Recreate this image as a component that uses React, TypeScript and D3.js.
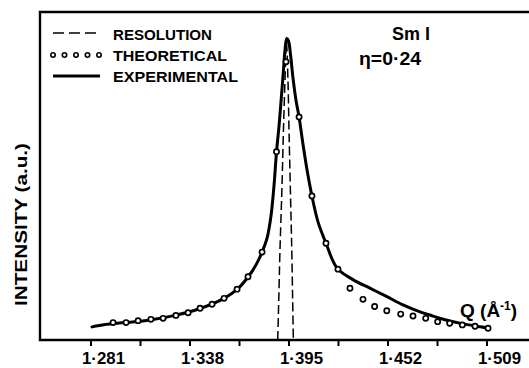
import React, { useEffect, useRef } from 'react';
import * as d3 from 'd3';

// Q values (A^-1) and intensity (arbitrary units, 0..100)
const expQ = [1.2816, 1.2891, 1.3006, 1.3150, 1.3294, 1.3438, 1.3576, 1.3651, 1.3714, 1.3760, 1.3795, 1.3824, 1.3847, 1.3864, 1.3878, 1.3893, 1.3907, 1.3919, 1.3927, 1.3937, 1.3947, 1.3959, 1.3973, 1.3990, 1.4008, 1.4031, 1.4054, 1.4082, 1.4117, 1.4163, 1.4226, 1.4318, 1.4416, 1.4514, 1.4606, 1.4704, 1.4779, 1.4854, 1.4946, 1.5021, 1.5096];
const expI = [4.0, 4.7, 5.3, 6.1, 7.5, 9.6, 12.7, 15.4, 19.2, 22.9, 26.8, 31.1, 38.1, 47.3, 57.3, 65.5, 74.7, 82.9, 88.4, 91.9, 91.2, 86.9, 79.9, 73.2, 68.0, 59.5, 51.8, 43.9, 36.0, 29.5, 22.0, 18.4, 15.8, 13.2, 10.7, 8.6, 7.3, 6.1, 5.0, 4.3, 3.7];

const theoQ = [1.2937, 1.3012, 1.3081, 1.3155, 1.3225, 1.3299, 1.3369, 1.3438, 1.3507, 1.3576, 1.3651, 1.3714, 1.3795, 1.3878, 1.3933, 1.4008, 1.4082, 1.4163, 1.4232, 1.4301, 1.4376, 1.4443, 1.4513, 1.4593, 1.4664, 1.4737, 1.4806, 1.4875, 1.4948, 1.5021, 1.5096];
const theoI = [5.3, 5.3, 5.9, 6.3, 6.6, 7.5, 8.3, 9.7, 10.9, 12.7, 15.5, 19.3, 26.8, 57.4, 84.8, 68.0, 43.9, 29.5, 21.6, 15.8, 12.4, 10.2, 8.9, 7.9, 7.3, 6.6, 5.6, 5.1, 4.6, 4.2, 3.6];

const resQ = [1.3885, 1.3891, 1.3898, 1.3909, 1.3918, 1.3927, 1.3935, 1.3944, 1.3950, 1.3958, 1.3966, 1.3971, 1.3975];
const resI = [0, 12.2, 27.4, 45.7, 64.0, 79.3, 90.9, 79.3, 64.0, 45.7, 27.4, 12.2, 0];

const tickValues = [1.281, 1.3095, 1.338, 1.3665, 1.395, 1.4235, 1.452, 1.4805, 1.509];
const tickLabels = ['1·281', '', '1·338', '', '1·395', '', '1·452', '', '1·509'];

const legendLabels = ['RESOLUTION', 'THEORETICAL', 'EXPERIMENTAL'];

const W = 529, H = 368;
const font = "'Liberation Sans', Arial, sans-serif";

export default function App() {
  const ref = useRef<SVGSVGElement>(null);

  useEffect(() => {
    const svg = d3.select(ref.current);
    svg.selectAll('*').remove();

    const x = d3.scaleLinear().domain([1.281, 1.509]).range([91, 487]);
    const y = d3.scaleLinear().domain([0, 100]).range([340, 12]);

    // frame: left axis, top line, bottom axis
    svg.append('path')
      .attr('d', `M${W},12H40V340H${W}`)
      .attr('fill', 'none').attr('stroke', '#000').attr('stroke-width', 2.4);

    const xAxis = svg.append('g');
    xAxis.selectAll('line').data(tickValues).enter().append('line')
      .attr('x1', d => x(d)).attr('x2', d => x(d))
      .attr('y1', 340).attr('y2', 346)
      .attr('stroke', '#000').attr('stroke-width', 2);
    xAxis.selectAll('text').data(tickValues.filter((_, i) => tickLabels[i] !== '')).enter().append('text')
      .attr('x', d => x(d) - 9).attr('y', 364)
      .attr('font-family', font).attr('font-weight', 'bold').attr('font-size', 17)
      .attr('textLength', 43).attr('lengthAdjust', 'spacingAndGlyphs')
      .text(d => tickLabels[tickValues.indexOf(d)]);

    // resolution (dashed)
    const resData = resQ.map((q, i) => [q, resI[i]] as [number, number]);
    svg.append('path')
      .attr('d', d3.line().x(d => x(d[0])).y(d => y(d[1])).curve(d3.curveCatmullRom)(resData) as string)
      .attr('fill', 'none').attr('stroke', '#000').attr('stroke-width', 1.5)
      .attr('stroke-dasharray', '9,4');

    // experimental (solid)
    const expData = expQ.map((q, i) => [q, expI[i]] as [number, number]);
    svg.append('path')
      .attr('d', d3.line().x(d => x(d[0])).y(d => y(d[1])).curve(d3.curveCatmullRom)(expData) as string)
      .attr('fill', 'none').attr('stroke', '#000').attr('stroke-width', 3)
      .attr('stroke-linejoin', 'round').attr('stroke-linecap', 'round');

    // theoretical (open circles)
    svg.append('g').selectAll('circle')
      .data(theoQ.map((q, i) => [q, theoI[i]]))
      .enter().append('circle')
      .attr('cx', d => x(d[0])).attr('cy', d => y(d[1])).attr('r', 2.6)
      .attr('fill', '#fff').attr('stroke', '#000').attr('stroke-width', 1.7);

    // legend
    const lg = svg.append('g');
    lg.append('line').attr('x1', 53).attr('x2', 100).attr('y1', 33).attr('y2', 33)
      .attr('stroke', '#000').attr('stroke-width', 1.6).attr('stroke-dasharray', '11,5');
    lg.selectAll('circle').data(d3.range(5)).enter().append('circle')
      .attr('cx', d => 53 + d * 11.5).attr('cy', 55).attr('r', 2.2)
      .attr('fill', '#fff').attr('stroke', '#000').attr('stroke-width', 1.6);
    lg.append('line').attr('x1', 53).attr('x2', 100).attr('y1', 76).attr('y2', 76)
      .attr('stroke', '#000').attr('stroke-width', 3);
    const widths = [99, 114, 125];
    lg.selectAll('text').data(legendLabels).enter().append('text')
      .attr('x', 113).attr('y', (_, i) => 39.5 + i * 21.2)
      .attr('font-family', font).attr('font-weight', 'bold').attr('font-size', 15.5)
      .attr('textLength', (_, i) => widths[i]).attr('lengthAdjust', 'spacingAndGlyphs')
      .text(d => d);

    // annotations
    svg.append('text').attr('x', 392).attr('y', 40)
      .attr('font-family', font).attr('font-weight', 'bold').attr('font-size', 19)
      .attr('textLength', 38).attr('lengthAdjust', 'spacingAndGlyphs')
      .text('Sm I');
    svg.append('text').attr('x', 359).attr('y', 65)
      .attr('font-family', font).attr('font-weight', 'bold').attr('font-size', 19)
      .attr('textLength', 62).attr('lengthAdjust', 'spacingAndGlyphs')
      .text('η=0·24');

    const q = svg.append('text').attr('x', 460).attr('y', 317)
      .attr('font-family', font).attr('font-weight', 'bold').attr('font-size', 19);
    q.append('tspan').text('Q (Å');
    q.append('tspan').attr('dy', -7).attr('font-size', 12).text('-1');
    q.append('tspan').attr('dy', 7).text(')');

    svg.append('text')
      .attr('transform', 'translate(27,224.5) rotate(-90)')
      .attr('text-anchor', 'middle')
      .attr('font-family', font).attr('font-weight', 'bold').attr('font-size', 16)
      .attr('textLength', 163).attr('lengthAdjust', 'spacingAndGlyphs')
      .text('INTENSITY (a.u.)');
  }, []);

  return (
    <svg ref={ref} width={W} height={H}
      style={{ position: 'absolute', left: 0, top: 0, background: '#fff' }} />
  );
}
